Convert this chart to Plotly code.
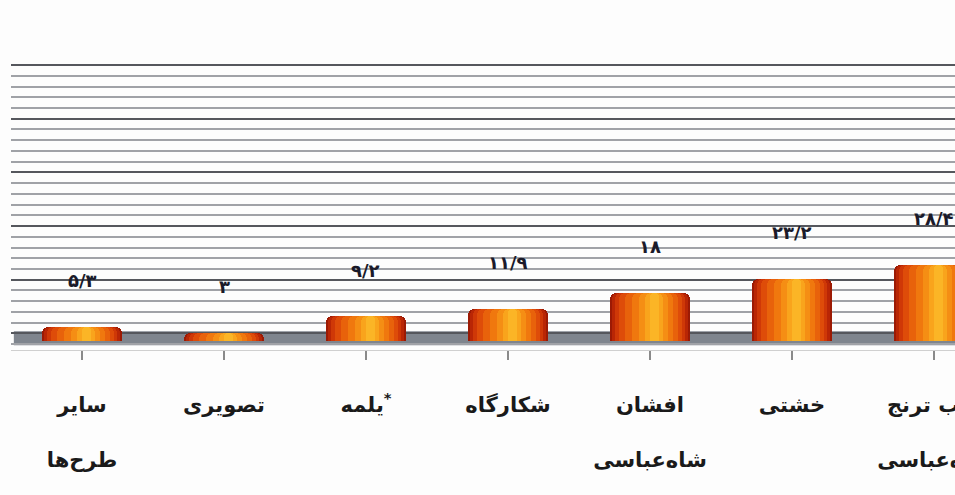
import plotly.graph_objects as go

categories = ["سایر طرح‌ها", "تصویری", "یلمه*", "شکارگاه", "افشان شاه‌عباسی", "خشتی", "قاب ترنج شاه‌عباسی"]
tick_labels = ["سایر<br> <br>طرح‌ها", "تصویری", "یلمه<sup>*</sup>", "شکارگاه",
               "افشان<br> <br>شاه‌عباسی", "خشتی", "قاب ترنج<br> <br>شاه‌عباسی"]
values = [5.3, 3, 9.2, 11.9, 18, 23.2, 28.4]

FA = str.maketrans("0123456789.", "۰۱۲۳۴۵۶۷۸۹/")


def fa(v):
    return f"{v:g}".translate(FA)


x = list(range(len(categories)))
fig = go.Figure()

# cylinder-like shading: layered bars (outer dark -> inner highlight)
layers = [
    (0.56, -0.28, "#9c1a04"),
    (0.53, -0.265, "#b92605"),
    (0.49, -0.245, "#cf3807"),
    (0.44, -0.215, "#de4c09"),
    (0.37, -0.175, "#e8620b"),
    (0.29, -0.125, "#f0780e"),
    (0.21, -0.08, "#f58e14"),
    (0.13, -0.035, "#f9a41c"),
    (0.06, 0.0, "#fbb526"),
]
for w, off, col in layers:
    fig.add_trace(go.Bar(
        x=x, y=values, width=w, offset=off,
        marker=dict(color=col, line=dict(width=0), cornerradius=6),
        hoverinfo="skip", showlegend=False,
    ))

for xi, v in zip(x, values):
    fig.add_annotation(x=xi, y=v, text="<b>" + fa(v) + "</b>", showarrow=False,
                       yshift=46, font=dict(family="DejaVu Sans", size=18, color="#1a1a2a"))

# floor
fig.add_shape(type="rect", xref="paper", yref="y", x0=0.003, x1=1, y0=-1.6, y1=3.6,
              fillcolor="#7f858e", line=dict(width=0), layer="between")

fig.update_layout(
    width=955, height=495,
    margin=dict(l=11, r=0, t=64, b=145, autoexpand=False),
    paper_bgcolor="#fdfdfd", plot_bgcolor="#fdfdfd",
    barmode="overlay", bargap=0,
    showlegend=False,
)
fig.update_xaxes(
    range=[-0.5, 6.148], tickmode="array", tickvals=x, ticktext=["<b>" + t + "</b>" for t in tick_labels],
    tickson="boundaries", ticks="outside", ticklen=9, tickcolor="#8a8a8a", tickwidth=1.5,
    showline=True, linecolor="#d0d0d0", linewidth=1,
    showgrid=False, zeroline=False, automargin=False,
    tickfont=dict(family="DejaVu Sans", size=21, color="#1a1a1a"),
    ticklabelstandoff=27, ticklabeloverflow="allow",
)
fig.update_yaxes(
    range=[-3.4, 103.2], tick0=2.8, dtick=20, showticklabels=False, ticks="",
    showgrid=True, gridcolor="#55575d", gridwidth=2,
    minor=dict(tick0=2.8, dtick=4, showgrid=True, gridcolor="#a0a2a7", gridwidth=1.6),
    zeroline=False, showline=False, automargin=False,
)

fig.write_html("out.html", config={"displayModeBar": False},
               post_script="document.body.style.margin='0';document.body.style.overflow='hidden';")
